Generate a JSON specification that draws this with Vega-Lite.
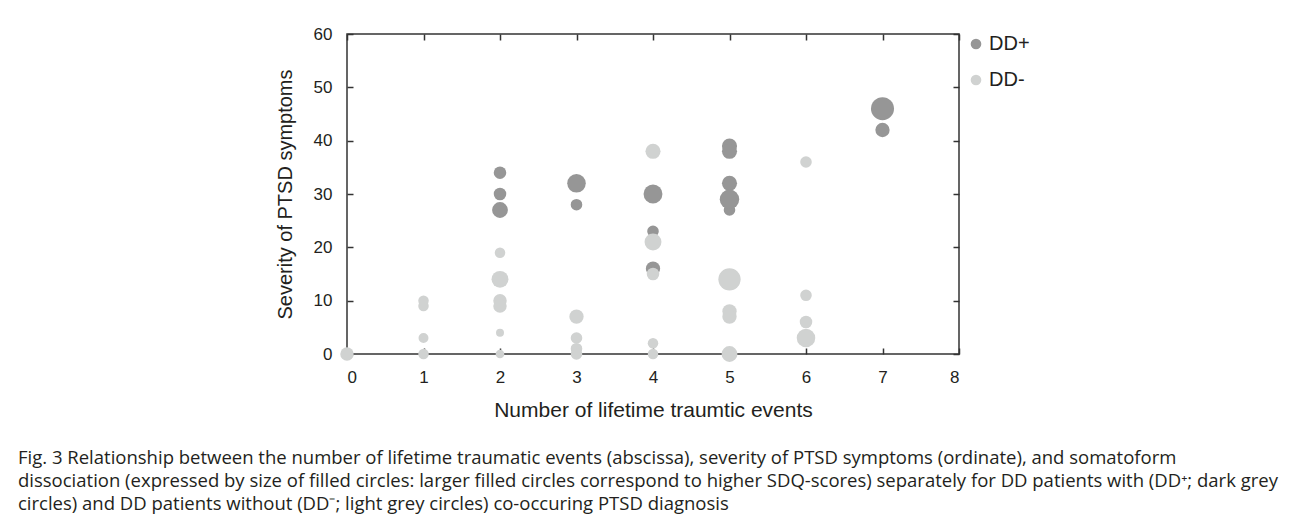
{
  "$schema": "https://vega.github.io/schema/vega-lite/v6.json",
  "width": 612,
  "height": 320,
  "autosize": {"type": "none"},
  "padding": {"left": 347, "top": 34, "right": 334, "bottom": 174},
  "background": "white",
  "config": {
    "font": "Liberation Sans",
    "view": {"stroke": "#333333", "strokeWidth": 1.5},
    "axis": {
      "grid": false,
      "domain": false,
      "tickColor": "#333333",
      "tickWidth": 1.5,
      "tickSize": -6,
      "labelFont": "Liberation Sans",
      "labelFontSize": 17,
      "labelColor": "#231f20",
      "titleFont": "Liberation Sans",
      "titleFontWeight": "normal",
      "titleColor": "#231f20"
    },
    "legend": {
      "labelFont": "Liberation Sans",
      "labelFontSize": 20,
      "labelColor": "#231f20",
      "symbolType": "circle",
      "symbolSize": 113,
      "symbolStrokeWidth": 0,
      "rowPadding": 16,
      "labelOffset": 3,
      "padding": 0,
      "offset": 6
    }
  },
  "title": {
    "text": [
      "Fig. 3 Relationship between the number of lifetime traumatic events (abscissa), severity of PTSD symptoms (ordinate), and somatoform",
      "dissociation (expressed by size of filled circles: larger filled circles correspond to higher SDQ-scores) separately for DD patients with (DD⁺; dark grey",
      "circles) and DD patients without (DD⁻; light grey circles) co-occuring PTSD diagnosis"
    ],
    "orient": "bottom",
    "anchor": "start",
    "frame": "group",
    "dx": -329,
    "offset": 29,
    "font": "Open Sans",
    "fontSize": 18.5,
    "fontWeight": "normal",
    "color": "#231f20",
    "lineHeight": 23
  },
  "data": {
    "values": [
      {"group": "DD+", "events": 2, "ptsd": 34, "sdq": 28},
      {"group": "DD+", "events": 2, "ptsd": 30, "sdq": 28},
      {"group": "DD+", "events": 2, "ptsd": 27, "sdq": 36},
      {"group": "DD+", "events": 3, "ptsd": 32, "sdq": 44},
      {"group": "DD+", "events": 3, "ptsd": 28, "sdq": 26},
      {"group": "DD+", "events": 4, "ptsd": 30, "sdq": 45},
      {"group": "DD+", "events": 4, "ptsd": 23, "sdq": 26},
      {"group": "DD+", "events": 4, "ptsd": 16, "sdq": 32},
      {"group": "DD+", "events": 5, "ptsd": 39, "sdq": 34},
      {"group": "DD+", "events": 5, "ptsd": 38, "sdq": 34},
      {"group": "DD+", "events": 5, "ptsd": 32, "sdq": 34},
      {"group": "DD+", "events": 5, "ptsd": 27, "sdq": 26},
      {"group": "DD+", "events": 5, "ptsd": 29, "sdq": 47},
      {"group": "DD+", "events": 7, "ptsd": 46, "sdq": 60},
      {"group": "DD+", "events": 7, "ptsd": 42, "sdq": 32},
      {"group": "DD-", "events": 0, "ptsd": 0, "sdq": 30},
      {"group": "DD-", "events": 1, "ptsd": 10, "sdq": 24},
      {"group": "DD-", "events": 1, "ptsd": 9, "sdq": 24},
      {"group": "DD-", "events": 1, "ptsd": 3, "sdq": 23},
      {"group": "DD-", "events": 1, "ptsd": 0, "sdq": 24},
      {"group": "DD-", "events": 2, "ptsd": 19, "sdq": 24},
      {"group": "DD-", "events": 2, "ptsd": 14, "sdq": 39},
      {"group": "DD-", "events": 2, "ptsd": 10, "sdq": 30},
      {"group": "DD-", "events": 2, "ptsd": 9, "sdq": 30},
      {"group": "DD-", "events": 2, "ptsd": 4, "sdq": 20},
      {"group": "DD-", "events": 2, "ptsd": 0, "sdq": 21},
      {"group": "DD-", "events": 3, "ptsd": 7, "sdq": 32},
      {"group": "DD-", "events": 3, "ptsd": 3, "sdq": 26},
      {"group": "DD-", "events": 3, "ptsd": 1, "sdq": 26},
      {"group": "DD-", "events": 3, "ptsd": 0, "sdq": 26},
      {"group": "DD-", "events": 4, "ptsd": 38, "sdq": 34},
      {"group": "DD-", "events": 4, "ptsd": 21, "sdq": 39},
      {"group": "DD-", "events": 4, "ptsd": 15, "sdq": 28},
      {"group": "DD-", "events": 4, "ptsd": 2, "sdq": 24},
      {"group": "DD-", "events": 4, "ptsd": 0, "sdq": 24},
      {"group": "DD-", "events": 5, "ptsd": 14, "sdq": 57},
      {"group": "DD-", "events": 5, "ptsd": 8, "sdq": 32},
      {"group": "DD-", "events": 5, "ptsd": 7, "sdq": 32},
      {"group": "DD-", "events": 5, "ptsd": 0, "sdq": 36},
      {"group": "DD-", "events": 6, "ptsd": 36, "sdq": 26},
      {"group": "DD-", "events": 6, "ptsd": 11, "sdq": 26},
      {"group": "DD-", "events": 6, "ptsd": 6, "sdq": 28},
      {"group": "DD-", "events": 6, "ptsd": 3, "sdq": 44}
    ]
  },
  "layer": [
    {
      "mark": {"type": "circle", "opacity": 1},
      "encoding": {
        "x": {
          "field": "events",
          "type": "quantitative",
          "scale": {"domain": [0, 8], "nice": false, "zero": false},
          "axis": {
            "orient": "bottom",
            "values": [0, 1, 2, 3, 4, 5, 6, 7, 8],
            "labelPadding": 21,
            "title": "Number of lifetime traumtic events",
            "titleFontSize": 21,
            "titlePadding": 14
          }
        },
        "y": {
          "field": "ptsd",
          "type": "quantitative",
          "scale": {"domain": [0, 60], "nice": false, "zero": false},
          "axis": {
            "orient": "left",
            "values": [0, 10, 20, 30, 40, 50, 60],
            "labelPadding": 21,
            "title": "Severity of PTSD symptoms",
            "titleFontSize": 20,
            "titlePadding": 18
          }
        },
        "color": {
          "field": "group",
          "type": "nominal",
          "scale": {"domain": ["DD+", "DD-"], "range": ["#969696", "#d0d2d1"]},
          "legend": {"title": null, "orient": "right"}
        },
        "size": {
          "field": "sdq",
          "type": "quantitative",
          "scale": {"type": "linear", "domain": [20, 60], "range": [64, 531], "zero": false},
          "legend": null
        }
      }
    },
    {
      "mark": {"type": "circle", "opacity": 0},
      "encoding": {
        "x": {
          "field": "events",
          "type": "quantitative",
          "axis": {"orient": "top", "values": [0, 1, 2, 3, 4, 5, 6, 7, 8], "labels": false, "title": null}
        },
        "y": {
          "field": "ptsd",
          "type": "quantitative",
          "axis": {"orient": "right", "values": [0, 10, 20, 30, 40, 50, 60], "labels": false, "title": null}
        }
      }
    }
  ],
  "resolve": {"axis": {"x": "independent", "y": "independent"}}
}
